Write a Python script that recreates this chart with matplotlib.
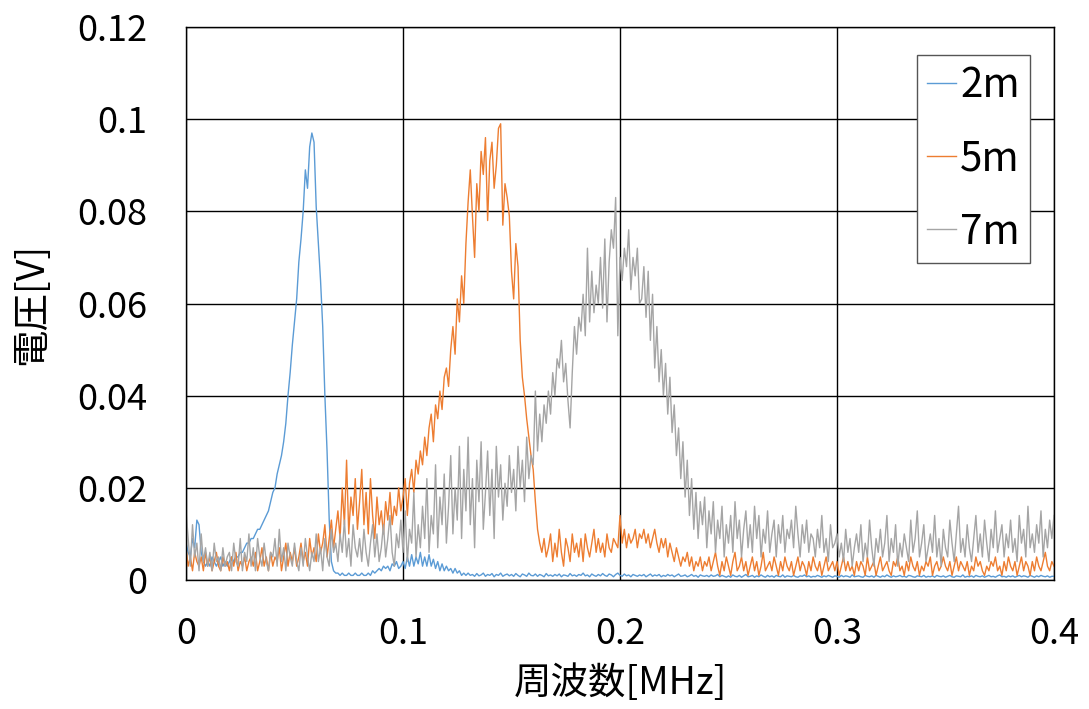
import numpy as np
import matplotlib
matplotlib.use('Agg')
from matplotlib import pyplot as plt

plt.rcParams['font.family'] = ['Noto Sans CJK JP', 'DejaVu Sans']

# frequency step of the samples [MHz]
step = 0.001

# 2m (mV)
v2m = [
    8, 6, 5, 9, 7, 13, 12, 6, 4, 3,
    4, 3, 5, 4, 3, 4, 5, 3, 4, 3,
    4, 5, 4, 5, 5, 6, 6, 7, 8, 8,
    9, 9, 10, 11, 11, 12, 13, 14, 15, 17,
    19, 20, 23, 25, 27, 30, 34, 40, 45, 51,
    56, 61, 69, 74, 80, 89, 85, 94, 97, 95,
    81, 73, 65, 55, 40, 28, 13, 4, 2, 1.5,
    1.5, 1, 1.5, 1, 1, 1.5, 1, 1, 1.5, 1,
    1, 1.5, 1, 1, 1.5, 1, 2, 1.5, 2, 2.5,
    2, 3, 2.5, 3, 2, 3.5, 3, 4, 2.5, 3,
    4, 2.5, 5, 3, 5.5, 3, 5, 3.5, 6, 3,
    5, 3, 5.5, 3, 4.5, 2.5, 4, 2, 3.5, 2,
    3, 2, 2.5, 1.5, 2.5, 1.5, 2, 1, 1.5, 1,
    1.5, 1, 1.2, 0.8, 1.4, 0.9, 1.1, 1.5, 0.8, 1.2,
    1, 1.4, 0.7, 1.2, 1, 1.5, 0.8, 1.1, 1.3, 0.9,
    1.2, 0.8, 1.4, 1, 0.7, 1.3, 1.1, 0.8, 1.5, 1,
    0.9, 1.3, 0.8, 1.2, 1, 0.7, 1.4, 0.9, 1.1, 0.8,
    1.2, 0.9, 1.3, 0.7, 1.1, 1, 0.8, 1.4, 0.9, 1.1,
    0.8, 1.2, 1, 1.5, 0.9, 1.1, 0.7, 1.3, 1, 0.8,
    1.2, 0.9, 1.4, 1, 0.8, 1.3, 1.1, 0.7, 1.2, 1.5,
    1, 0.8, 1.3, 0.9, 1.1, 0.7, 1.2, 1, 0.8, 1.1,
    0.9, 1.2, 0.7, 1, 1.3, 0.8, 1.1, 0.9, 1.2, 0.7,
    1, 0.8, 1.2, 0.9, 1.1, 0.7, 1, 1.3, 0.8, 0.9,
    1.1, 0.7, 0.9, 1.2, 0.8, 1, 0.6, 1.1, 0.9, 0.8,
    1, 0.7, 1.1, 0.8, 0.9, 1.2, 0.7, 1, 0.8, 0.6,
    0.9, 0.6, 1.1, 0.8, 0.7, 1, 0.6, 0.9, 1.2, 0.7,
    0.8, 1, 0.6, 0.9, 0.7, 1.1, 0.8, 0.6, 1, 0.7,
    0.9, 0.6, 1, 0.8, 0.7, 1.1, 0.6, 0.9, 0.8, 0.7,
    1, 0.7, 0.6, 0.9, 0.8, 1.1, 0.7, 0.9, 0.6, 0.8,
    0.7, 1, 0.8, 0.6, 0.9, 0.7, 1, 0.8, 0.6, 0.9,
    0.8, 0.6, 1, 0.7, 0.9, 0.8, 0.6, 1.1, 0.7, 0.8,
    0.9, 0.7, 0.6, 1, 0.8, 0.7, 0.9, 0.6, 1, 0.8,
    0.6, 0.9, 0.7, 1.1, 0.8, 0.6, 0.9, 0.7, 0.8, 1,
    0.7, 0.8, 0.6, 1, 0.9, 0.7, 0.6, 0.9, 0.8, 0.7,
    1, 0.6, 0.8, 0.7, 0.9, 0.6, 1, 0.8, 0.7, 0.9,
    0.6, 0.8, 1, 0.7, 0.6, 0.9, 0.8, 0.7, 1.1, 0.6,
    0.8, 0.7, 0.9, 0.6, 1, 0.8, 0.7, 0.9, 0.6, 0.8,
    1, 0.7, 0.8, 0.6, 0.9, 1.1, 0.7, 0.8, 0.6, 0.9,
    0.7, 0.9, 0.6, 0.8, 1, 0.7, 0.9, 0.8, 0.6, 1,
    0.8, 0.6, 0.9, 0.7, 1, 0.8, 0.7, 0.9, 0.6, 0.8,
    0.8,
]

# 5m (mV)
v5m = [
    7, 3, 5, 2, 6, 4, 3, 5, 2, 6,
    3, 5, 2, 4, 6, 3, 2, 5, 3, 4,
    2, 5, 3, 6, 2, 4, 3, 5, 2, 4,
    5, 3, 6, 2, 4, 7, 3, 5, 2, 6,
    3, 5, 4, 7, 2, 5, 8, 3, 6, 4,
    7, 3, 5, 8, 4, 6, 3, 9, 5, 7,
    4, 10, 6, 8, 12, 5, 9, 13, 7, 11,
    15, 9, 20, 12, 26, 10, 18, 14, 22, 11,
    17, 24, 12, 19, 10, 22, 14, 9, 18, 12,
    15, 10, 17, 13, 19, 12, 16, 14, 20, 15,
    18, 22, 14, 21, 24, 19, 26, 23, 28, 25,
    31, 27, 33, 36, 30, 38, 35, 41, 37, 44,
    46, 42, 50, 55, 49, 61, 56, 66, 60, 73,
    82, 89, 79, 70, 86, 80, 93, 88, 96, 78,
    91, 95, 85, 90, 98, 99, 77, 86, 83, 79,
    67, 61, 73, 68, 52, 44, 40, 35, 31, 27,
    24, 17, 11, 8, 6, 9, 5, 7, 10, 4,
    8, 5, 11, 6, 3, 9, 7, 4, 10, 6,
    8, 5, 9, 4, 10, 7, 5, 8, 11, 6,
    9, 6, 8, 5, 10, 7, 6, 9, 8, 7,
    14, 8, 11, 7, 10, 8, 9, 11, 7, 10,
    9, 11, 8, 10, 7, 9, 11, 8, 6, 9,
    7, 9, 5, 8, 6, 4, 7, 5, 3, 5,
    4, 6, 3, 5, 2, 4, 3, 5, 2, 4,
    3, 5, 2, 4, 6, 3, 1, 4, 2, 5,
    3, 1, 4, 6, 2, 3, 5, 2, 4, 1,
    3, 5, 2, 4, 1, 3, 6, 2, 3, 4,
    2, 5, 3, 1, 4, 2, 5, 3, 2, 4,
    1, 3, 5, 2, 4, 3, 1, 4, 2, 5,
    3, 2, 4, 1, 3, 5, 2, 3, 4, 2,
    4, 1, 3, 5, 2, 4, 2, 3, 1, 4,
    2, 4, 3, 1, 5, 2, 3, 4, 1, 3,
    5, 2, 3, 4, 2, 1, 4, 3, 5, 2,
    3, 1, 4, 2, 5, 3, 2, 4, 1, 3,
    2, 4, 3, 5, 1, 3, 4, 2, 3, 5,
    3, 2, 4, 1, 3, 5, 2, 4, 3, 2,
    4, 1, 3, 2, 5, 3, 4, 2, 1, 3,
    2, 4, 3, 5, 2, 3, 1, 4, 2, 5,
    3, 2, 4, 1, 3, 5, 2, 4, 3, 1,
    4, 2, 5, 3, 2, 4, 6, 3, 2, 4,
    3,
]

# 7m (mV)
v7m = [
    15, 9, 3, 12, 5, 8, 2, 10, 4, 7,
    3, 6, 2, 8, 4, 5, 2, 7, 3, 5,
    6, 2, 8, 4, 3, 9, 2, 6, 4, 10,
    3, 7, 2, 9, 5, 3, 8, 4, 2, 6,
    5, 9, 3, 11, 4, 7, 2, 8, 5, 3,
    8, 4, 2, 7, 3, 9, 5, 2, 6, 4,
    10, 4, 7, 2, 9, 5, 3, 11, 6, 8,
    4, 10, 6, 13, 5, 9, 3, 12, 7, 5,
    9, 4, 11, 6, 3, 8, 12, 5, 10, 4,
    7, 12, 5, 9, 14, 6, 3, 10, 7, 13,
    6, 15, 4, 11, 8, 19, 5, 12, 7, 16,
    9, 22, 6, 14, 10, 25, 7, 18, 12, 23,
    8, 16, 27, 10, 20, 13, 29, 9, 24, 15,
    31, 12, 22, 7, 26, 17, 30, 11, 19, 28,
    14, 24, 9, 29, 18, 25, 13, 21, 16, 27,
    19, 24, 15, 29, 20, 26, 17, 31, 22, 27,
    25, 41, 28, 36, 30, 38, 34, 41, 36, 45,
    40, 48, 46, 52, 43, 47, 39, 33, 45, 55,
    49, 57, 54, 62, 53, 72, 56, 67, 58, 64,
    60, 70, 59, 74, 56, 69, 76, 72, 83, 53,
    70, 65, 72, 68, 76, 63, 70, 66, 72, 60,
    61, 68, 57, 67, 52, 62, 46, 55, 43, 50,
    40, 47, 36, 44, 32, 38, 27, 33, 22, 30,
    18, 26, 14, 22, 11, 19, 9, 17, 12, 18,
    7, 15, 10, 17, 6, 13, 9, 16, 5, 12,
    8, 14, 6, 17, 9, 13, 5, 11, 15, 7,
    12, 6, 16, 9, 14, 5, 11, 8, 15, 6,
    10, 13, 5, 12, 8, 14, 6, 11, 9, 13,
    7, 16, 10, 5, 12, 8, 13, 6, 10, 9,
    5, 11, 7, 14, 6, 9, 4, 12, 7, 8,
    10, 5, 8, 4, 11, 6, 9, 3, 7, 10,
    6, 12, 4, 8, 5, 13, 7, 3, 9, 6,
    11, 5, 8, 14, 4, 9, 6, 12, 3, 8,
    5, 10, 7, 4, 13, 6, 9, 15, 5, 8,
    12, 4, 7, 10, 6, 14, 5, 9, 3, 11,
    7, 5, 13, 8, 4, 10, 16, 6, 9, 5,
    12, 7, 4, 9, 14, 6, 10, 5, 13, 8,
    4, 11, 7, 15, 6, 9, 12, 5, 10, 7,
    13, 6, 9, 4, 14, 8, 11, 5, 16, 7,
    10, 6, 12, 8, 15, 5, 11, 7, 13, 9,
    14,
]

series = [('2m', v2m, '#5B9BD5'), ('5m', v5m, '#ED7D31'), ('7m', v7m, '#A5A5A5')]
xticks = [0, 0.1, 0.2, 0.3, 0.4]
xtick_labels = ['0', '0.1', '0.2', '0.3', '0.4']
yticks = [0, 0.02, 0.04, 0.06, 0.08, 0.1, 0.12]
ytick_labels = ['0', '0.02', '0.04', '0.06', '0.08', '0.1', '0.12']

fig = plt.figure(figsize=(10.89, 7.09), dpi=100)
ax = fig.add_axes([186 / 1089, 129 / 709, 868 / 1089, 553 / 709])

for name, vals, color in series:
    y = np.array(vals, dtype=float) / 1000.0
    x = np.arange(len(y)) * step
    ax.plot(x, y, color=color, lw=1.0, label=name)

ax.set_xlim(0, 0.4)
ax.set_ylim(0, 0.12)
ax.set_xticks(xticks)
ax.set_xticklabels(xtick_labels)
ax.set_yticks(yticks)
ax.set_yticklabels(ytick_labels)
ax.tick_params(length=0, labelsize=26)
ax.tick_params(axis='y', pad=28)
ax.tick_params(axis='x', pad=26)
ax.grid(True, color='black', lw=1.0)
ax.set_axisbelow(True)
for s in ax.spines.values():
    s.set_color('black')
    s.set_linewidth(1.0)

fig.text(32 / 1089, 1 - 304 / 709, '電圧[V]', rotation=90, fontsize=27,
         ha='center', va='center')
fig.text(620 / 1089, 1 - 684 / 709, '周波数[MHz]', fontsize=27,
         ha='center', va='center')

leg = ax.legend(loc='upper left', bbox_to_anchor=(917 / 1089, 1 - 55 / 709),
                bbox_transform=fig.transFigure, borderaxespad=0, fancybox=False,
                edgecolor='#555555', framealpha=1, fontsize=29,
                handlelength=0.72, handletextpad=0.1, labelspacing=0.8,
                borderpad=0.25)
leg.get_frame().set_linewidth(1.0)

fig.savefig('out.png', dpi=100)
